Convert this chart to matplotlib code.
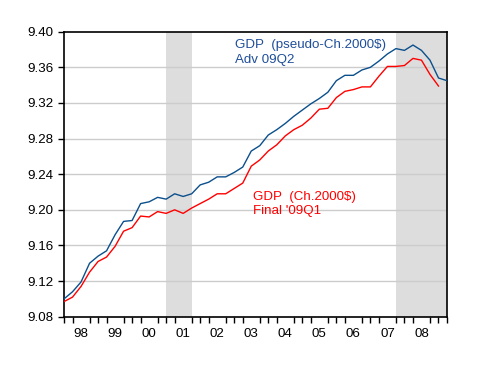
import matplotlib
matplotlib.use('Agg')
import matplotlib.pyplot as plt
import numpy as np

plt.rcParams['font.family'] = ['Liberation Sans', 'DejaVu Sans']

# log real GDP, quarterly from 1998Q1
start_year = 1998
gdp_adv = [9.100, 9.108, 9.119, 9.140, 9.148, 9.154, 9.172, 9.187,
           9.188, 9.207, 9.209, 9.214, 9.212, 9.218, 9.215, 9.218,
           9.228, 9.231, 9.237, 9.237, 9.242, 9.248, 9.266, 9.272,
           9.284, 9.290, 9.297, 9.305, 9.312, 9.319, 9.325, 9.332,
           9.345, 9.351, 9.351, 9.357, 9.360, 9.367, 9.375, 9.381,
           9.379, 9.385, 9.379, 9.368, 9.348, 9.345]  # to 09Q2
gdp_final = [9.097, 9.102, 9.114, 9.130, 9.142, 9.147, 9.159, 9.176,
             9.180, 9.193, 9.192, 9.198, 9.196, 9.200, 9.196, 9.202,
             9.207, 9.212, 9.218, 9.218, 9.224, 9.230, 9.249, 9.256,
             9.266, 9.273, 9.283, 9.290, 9.295, 9.303, 9.313, 9.314,
             9.326, 9.333, 9.335, 9.338, 9.338, 9.350, 9.361, 9.361,
             9.362, 9.370, 9.368, 9.352, 9.339]  # to 09Q1
recessions = [(2001.0, 2001.75), (2007.75, 2009.25)]
year_labels = ['98', '99', '00', '01', '02', '03', '04', '05', '06', '07', '08']

t_adv = start_year + 0.25*np.arange(len(gdp_adv))
t_fin = start_year + 0.25*np.arange(len(gdp_final))

fig = plt.figure(figsize=(4.82, 3.65), dpi=100)
ax = fig.add_axes([0.1328, 0.1323, 0.7946, 0.7809])

for a, b in recessions:
    ax.axvspan(a, b, color='#dddddd', lw=0, zorder=0)

yt = np.arange(9.08, 9.401, 0.04)
for y in yt[1:-1]:
    ax.axhline(y, color='#cccccc', lw=1, zorder=1)

ax.plot(t_adv, gdp_adv, color='#0b4f8c', lw=1, zorder=3)
ax.plot(t_fin, gdp_final, color='#ff0000', lw=1, zorder=3)

ax.set_xlim(1998, 2009.25)
ax.set_ylim(9.08, 9.40)
ax.set_yticks(yt)
ax.set_yticklabels(['%.2f' % v for v in yt])

ax.set_xticks(np.arange(1998, 2009.3, 0.25), minor=True)
ax.set_xticks(np.arange(1998.5, 2009, 1.0))
ax.set_xticklabels(year_labels)
ax.tick_params(axis='x', which='major', length=0, pad=8, labelsize=9.6)
ax.tick_params(axis='x', which='minor', length=4, width=1, direction='out')
ax.tick_params(axis='y', length=4, width=1, pad=3.5, labelsize=9.6)

for s in ax.spines.values():
    s.set_linewidth(1.2)

ax.text(2003.02, 9.392, 'GDP  (pseudo-Ch.2000$)\nAdv 09Q2', color='#1f4e9a',
        fontsize=9.6, va='top', ha='left', linespacing=1.3)
ax.text(2003.55, 9.2215, "GDP  (Ch.2000$)\nFinal '09Q1", color='#ff0000',
        fontsize=9.6, va='top', ha='left', linespacing=1.3)

fig.savefig('out.png', dpi=100)
